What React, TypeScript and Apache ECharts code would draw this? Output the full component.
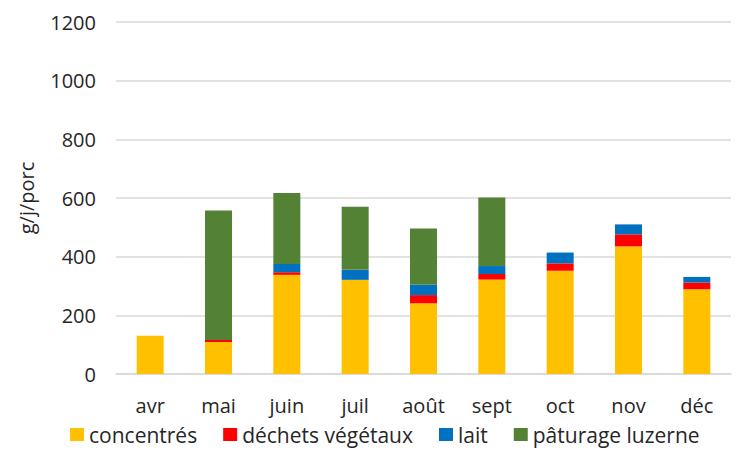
import React, { useEffect, useRef } from "react";
import * as echarts from "echarts";

const months = ["avr", "mai", "juin", "juil", "août", "sept", "oct", "nov", "déc"];
const concentres = [130, 109, 338, 321, 241, 322, 352, 435, 289];
const dechetsVegetaux = [0, 7, 9, 0, 28, 19, 25, 41, 23];
const lait = [0, 0, 28, 34, 35, 27, 37, 34, 19];
const paturageLuzerne = [0, 441, 242, 215, 192, 234, 0, 0, 0];

const FONT = "Open Sans";

export default function App() {
  const ref = useRef<HTMLDivElement>(null);
  useEffect(() => {
    if (!ref.current) return;
    const chart = echarts.init(ref.current, null, { renderer: "svg" });
    const mk = (name: string, data: number[], color: string) => ({
      name,
      type: "bar",
      stack: "total",
      data,
      barWidth: 27,
      itemStyle: { color },
    });
    chart.setOption({
      animation: false,
      textStyle: { fontFamily: FONT },
      grid: { left: 116, right: 14, top: 22, bottom: 77 },
      legend: {
        bottom: 1,
        left: 65,
        itemWidth: 14,
        itemHeight: 13,
        itemGap: 26,
        icon: "rect",
        textStyle: { fontSize: 21, color: "#262626", fontFamily: FONT },
        data: ["concentrés", "déchets végétaux", "lait", "pâturage luzerne"],
      },
      xAxis: {
        type: "category",
        data: months,
        axisLine: { lineStyle: { color: "#d9d9d9", width: 1.5 } },
        axisTick: { show: false },
        axisLabel: { fontSize: 20, color: "#262626", margin: 21, fontFamily: FONT },
      },
      yAxis: {
        type: "value",
        min: 0,
        max: 1200,
        interval: 200,
        name: "g/j/porc",
        nameLocation: "middle",
        nameGap: 80,
        nameTextStyle: { fontSize: 20, color: "#262626", fontFamily: FONT },
        axisLine: { show: false },
        axisTick: { show: false },
        axisLabel: {
          fontSize: 20,
          color: "#262626",
          margin: 20,
          fontFamily: FONT,
          formatter: (v: number) => String(v),
        },
        splitLine: { lineStyle: { color: "#d9d9d9", width: 1.5 } },
      },
      series: [
        mk("concentrés", concentres, "#FFC000"),
        mk("déchets végétaux", dechetsVegetaux, "#FF0000"),
        mk("lait", lait, "#0070C0"),
        mk("pâturage luzerne", paturageLuzerne, "#548235"),
      ],
    });
    return () => chart.dispose();
  }, []);
  return <div ref={ref} style={{ width: 745, height: 451, position: "absolute", left: 0, top: 0, background: "#fff" }} />;
}
